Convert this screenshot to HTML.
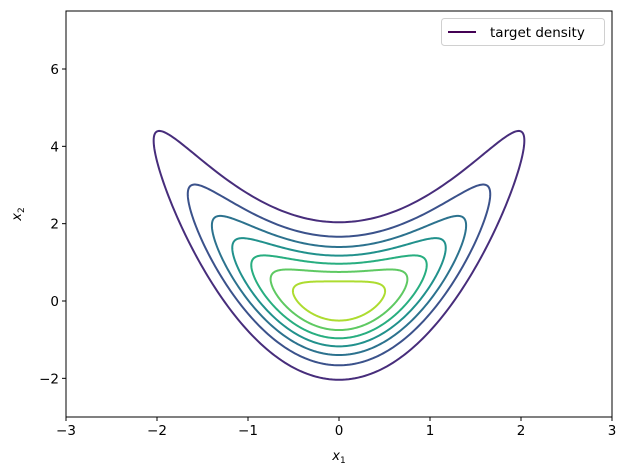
<!DOCTYPE html>
<html><head><meta charset="utf-8"><style>
html,body{margin:0;padding:0;background:#fff;}
svg{display:block;font-family:"DejaVu Sans","Liberation Sans",sans-serif;}
</style></head><body>
<svg id="chart" width="627" height="476" viewBox="0 0 627 476">
<rect width="627" height="476" fill="#fff"/>
<g id="contours"></g>
<rect x="66" y="11" width="546" height="406" fill="none" stroke="#000" stroke-width="1"/>
<g id="xticks"></g>
<g id="yticks"></g>
<text x="339" y="460" font-size="13" text-anchor="middle"><tspan font-style="italic">x</tspan><tspan font-size="9" dy="3">1</tspan></text>
<text transform="translate(21,214) rotate(-90)" font-size="13" text-anchor="middle"><tspan font-style="italic">x</tspan><tspan font-size="9" dy="3">2</tspan></text>
<g>
<rect x="441.5" y="18.5" width="163" height="27" rx="3" fill="#fff" fill-opacity="0.8" stroke="#d0d0d0"/>
<line x1="448" y1="32" x2="476" y2="32" stroke="#440154" stroke-width="2"/>
<text x="490" y="37" font-size="13.5">target density</text>
</g>
</svg>
<script>
const levels = [0.02, 0.04, 0.06, 0.08, 0.10, 0.12, 0.14];
const colors = ["#472d7b", "#3b528b", "#2c728e", "#21918c", "#28ae80", "#5ec962", "#addc30"];
const xTicks = [-3, -2, -1, 0, 1, 2, 3];
const yTicks = [-2, 0, 2, 4, 6];
const xDomain = [-3, 3];
const yDomain = [-3, 7.5];

const L = 66, R = 612, T = 11, B = 417;
function sx(v){ return L + (v - xDomain[0]) / (xDomain[1] - xDomain[0]) * (R - L); }
function sy(v){ return B - (v - yDomain[0]) / (yDomain[1] - yDomain[0]) * (B - T); }
const NS = "http://www.w3.org/2000/svg";
const peak = 1 / (2 * Math.PI);

const cg = document.getElementById('contours');
levels.forEach((lv, i) => {
  const r = Math.sqrt(2 * Math.log(peak / lv));
  let d = "";
  for (let k = 0; k <= 360; k++) {
    const t = k / 360 * 2 * Math.PI;
    const x1 = r * Math.cos(t);
    const x2 = r * Math.sin(t) + x1 * x1;
    d += (k ? "L" : "M") + sx(x1).toFixed(2) + "," + sy(x2).toFixed(2);
  }
  const p = document.createElementNS(NS, 'path');
  p.setAttribute('d', d + "Z");
  p.setAttribute('fill', 'none');
  p.setAttribute('stroke', colors[i]);
  p.setAttribute('stroke-width', '2');
  
  
  cg.appendChild(p);
});

const fmt = v => (v < 0 ? "\u2212" + Math.abs(v) : "" + v);
const xg = document.getElementById('xticks');
xTicks.forEach(v => {
  const l = document.createElementNS(NS, 'line');
  l.setAttribute('x1', sx(v)); l.setAttribute('x2', sx(v));
  l.setAttribute('y1', B); l.setAttribute('y2', B + 4);
  l.setAttribute('stroke', '#000');
  
  
  xg.appendChild(l);
  const t = document.createElementNS(NS, 'text');
  t.setAttribute('x', sx(v)); t.setAttribute('y', B + 18);
  t.setAttribute('font-size', '13.5'); t.setAttribute('text-anchor', 'middle');
  t.textContent = fmt(v);
  
  
  xg.appendChild(t);
});
const yg = document.getElementById('yticks');
yTicks.forEach(v => {
  const l = document.createElementNS(NS, 'line');
  l.setAttribute('x1', L - 4); l.setAttribute('x2', L);
  l.setAttribute('y1', sy(v)); l.setAttribute('y2', sy(v));
  l.setAttribute('stroke', '#000');
  
  
  yg.appendChild(l);
  const t = document.createElementNS(NS, 'text');
  t.setAttribute('x', L - 7); t.setAttribute('y', sy(v) + 5);
  t.setAttribute('font-size', '13.5'); t.setAttribute('text-anchor', 'end');
  t.textContent = fmt(v);
  
  
  yg.appendChild(t);
});
</script>
</body></html>
